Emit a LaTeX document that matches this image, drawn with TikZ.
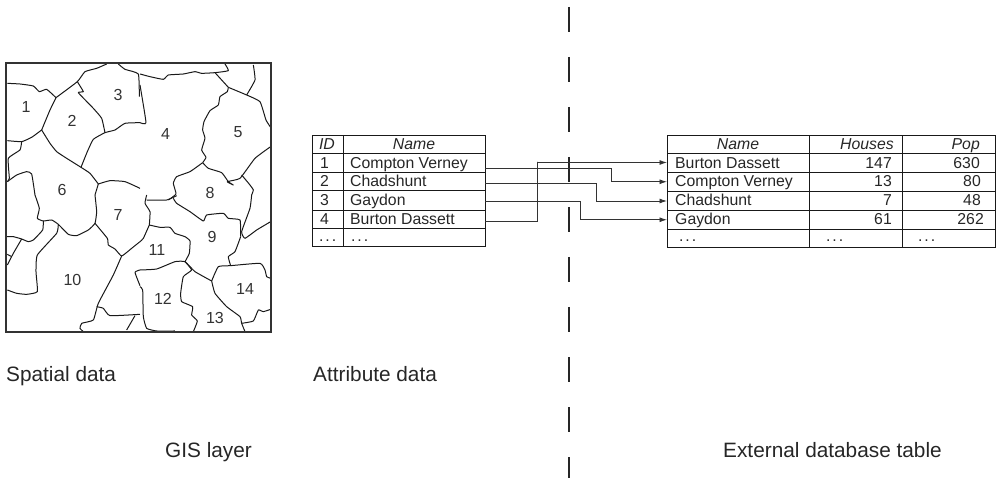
\documentclass[tikz,border=0pt]{standalone}
\usepackage{fontspec}
\setmainfont{Liberation Sans}
\usetikzlibrary{arrows.meta}
\tikzset{
  mapline/.style={draw=black!90,line width=1pt,line join=round},
  frameline/.style={draw=black!80,line width=1.6pt},
  rowbox/.style={draw=black!90,line width=.8pt,anchor=north west,inner sep=0pt,outer sep=0pt},
  cellrule/.style={draw=black!90,line width=.8pt},
  link/.style={draw=black!80,line width=.85pt,-{Latex[length=7.5pt,width=5pt]}},
  divider/.style={draw=black!85,line width=1.4pt,dash pattern=on 25pt off 25pt},
  num/.style={inner sep=0pt,font=\fontsize{16}{16}\selectfont,text=black!80},
  tl/.style={inner sep=0pt,anchor=base west,font=\fontsize{15.8}{16}\selectfont,text=black!85},
  tr/.style={inner sep=0pt,anchor=base east,font=\fontsize{15.8}{16}\selectfont,text=black!85},
  tc/.style={inner sep=0pt,anchor=base,font=\fontsize{15.8}{16}\selectfont\itshape,text=black!85},
  dots/.style={inner sep=0pt,anchor=base west,font=\fontsize{15.8}{16}\selectfont\addfontfeature{LetterSpace=12},text=black!85},
  captext/.style={inner sep=0pt,anchor=base west,font=\fontsize{20.8}{21}\selectfont,text=black!85}
}
\newcommand{\zn}[1]{\draw[mapline] plot[smooth,tension=.25] coordinates {#1};}
\begin{document}
\begin{tikzpicture}[x=1pt,y=-1pt]
\useasboundingbox (0,0) rectangle (996,478);
% map boundaries, traced per quadrant
\begin{scope}[shift={(0,50)},x=.3333pt,y=-.3333pt]
\zn{(22,100)(60,102)(100,108)(118,125)(140,118)(168,143)}
\zn{(168,143)(232,95)(255,65)(290,55)(320,42)}
\zn{(168,143)(150,180)(125,240)}
\zn{(125,240)(95,262)(65,275)(22,272)}
\zn{(65,275)(60,300)(25,325)(28,385)(22,395)}
\zn{(22,395)(50,375)(80,365)(95,372)(105,435)}
\zn{(125,240)(150,280)(170,305)(200,325)(243,352)(270,370)(295,402)}
\zn{(243,352)(262,305)(280,268)(315,248)(345,240)(375,220)(420,218)}
\zn{(232,95)(250,125)(235,128)(280,175)(305,205)(315,248)}
\zn{(355,42)(375,58)(415,72)(418,140)}
\zn{(295,402)(330,392)(375,395)(420,415)}
\zn{(295,402)(285,435)}
\end{scope}
\begin{scope}[shift={(140,50)},x=.3333pt,y=-.3333pt]
\zn{(0,72)(30,80)(70,88)(85,75)(130,72)(165,65)(185,70)(225,68)(265,62)(255,42)}
\zn{(225,68)(245,90)(265,112)}
\zn{(0,105)(18,218)(0,218)}
\zn{(265,112)(320,135)(360,155)(378,210)(392,232)}
\zn{(320,135)(345,90)(340,45)}
\zn{(265,112)(262,125)(240,140)(235,165)(210,182)(192,215)(188,240)(195,265)(185,300)(198,322)(188,338)}
\zn{(188,338)(205,355)(245,368)(265,395)(280,405)(262,395)(300,385)(345,325)(392,290)}
\zn{(188,338)(150,365)(110,380)(100,400)(108,432)(85,450)}
\zn{(305,375)(330,405)(340,420)(335,435)}
\end{scope}
\begin{scope}[shift={(0,195)},x=.3333pt,y=-.3333pt]
\zn{(105,0)(118,40)(112,70)(130,78)(155,75)(175,88)(205,118)(230,122)(265,105)(285,85)(290,50)(285,0)}
\zn{(130,78)(128,105)(100,135)(85,140)(65,132)(40,125)(20,125)}
\zn{(65,132)(40,175)(22,210)}
\zn{(22,178)(35,185)}
\zn{(175,88)(170,115)(112,180)(108,230)(112,290)(80,298)(50,295)(22,285)}
\zn{(285,85)(322,130)(325,150)(345,162)(365,183)(395,160)(420,140)}
\zn{(365,183)(340,240)(295,325)(280,375)(245,385)(240,400)(250,410)}
\zn{(290,335)(310,340)(330,362)(420,358)}
\zn{(405,362)(380,405)}
\end{scope}
\begin{scope}[shift={(140,195)},x=.3333pt,y=-.3333pt]
\zn{(20,0)(15,25)(30,50)(28,90)}
\zn{(20,15)(80,15)(110,2)}
\zn{(100,10)(110,25)(150,50)(190,78)(200,60)(250,55)(265,70)(300,75)(302,125)}
\zn{(335,0)(330,40)(305,110)(315,130)(350,105)(392,80)}
\zn{(302,125)(285,170)(265,185)(272,212)}
\zn{(28,90)(60,97)(90,97)(105,115)(135,125)(150,138)(148,175)(135,200)}
\zn{(0,225)(50,222)(105,200)(135,200)(165,230)(215,258)}
\zn{(135,200)(155,225)(130,245)(122,295)(125,320)(158,335)(155,360)(172,378)(160,410)}
\zn{(215,258)(235,215)(272,212)(360,205)(375,225)(380,245)(392,250)}
\zn{(215,258)(225,295)(260,335)(300,365)(305,385)(315,410)}
\zn{(305,385)(340,378)(355,345)(370,350)(392,343)}
\zn{(0,275)(8,285)(10,365)(20,400)(50,408)(105,408)}
\zn{(28,90)(10,130)(0,140)}
\zn{(0,225)(-15,232)(0,272)}
\end{scope}
\draw[frameline] (6,63) rectangle (271,332);
% map numbers
\node[num] (m1) at (26,107) {1};
\node[num] (m2) at (72,121) {2};
\node[num] (m3) at (118,95) {3};
\node[num] (m4) at (165.5,134) {4};
\node[num] (m5) at (238,132) {5};
\node[num] (m6) at (62,190) {6};
\node[num] (m7) at (118,215) {7};
\node[num] (m8) at (210,193) {8};
\node[num] (m9) at (212,237) {9};
\node[num] (m10) at (72.5,280) {10};
\node[num] (m11) at (157,250) {11};
\node[num] (m12) at (163,299) {12};
\node[num] (m13) at (215,318) {13};
\node[num] (m14) at (245,289) {14};
% attribute table rows
\node[rowbox,minimum width=172.7pt,minimum height=18.5pt] (a0) at (312.3,135) {};
\node[rowbox,minimum width=172.7pt,minimum height=19pt] (a1) at (312.3,153.5) {};
\node[rowbox,minimum width=172.7pt,minimum height=18pt] (a2) at (312.3,172.5) {};
\node[rowbox,minimum width=172.7pt,minimum height=19.5pt] (a3) at (312.3,190.5) {};
\node[rowbox,minimum width=172.7pt,minimum height=18pt] (a4) at (312.3,210) {};
\node[rowbox,minimum width=172.7pt,minimum height=18.7pt] (a5) at (312.3,228) {};
\draw[cellrule] (a0.north west -| 343,0) -- (a5.south west -| 343,0);
\node[tc] (h1) at (327,149.5) {ID};
\node[tc] (h2) at (414,149.5) {Name};
\node[tl] (i1) at (320,168.8) {1};
\node[tl] (i2) at (320,187) {2};
\node[tl] (i3) at (320,205.8) {3};
\node[tl] (i4) at (320,224.5) {4};
\node[dots] (i5) at (319,241.5) {...};
\node[tl] (n1) at (350,168.8) {Compton Verney};
\node[tl] (n2) at (350,187) {Chadshunt};
\node[tl] (n3) at (350,205.8) {Gaydon};
\node[tl] (n4) at (350,224.5) {Burton Dassett};
\node[dots] (n5) at (351,241.5) {...};
% external table rows
\node[rowbox,minimum width=328pt,minimum height=17.5pt] (b0) at (667,135.5) {};
\node[rowbox,minimum width=328pt,minimum height=19pt] (b1) at (667,153) {};
\node[rowbox,minimum width=328pt,minimum height=19.5pt] (b2) at (667,172) {};
\node[rowbox,minimum width=328pt,minimum height=19pt] (b3) at (667,191.5) {};
\node[rowbox,minimum width=328pt,minimum height=18.5pt] (b4) at (667,210.5) {};
\node[rowbox,minimum width=328pt,minimum height=18.5pt] (b5) at (667,229) {};
\draw[cellrule] (b0.north west -| 809,0) -- (b5.south west -| 809,0);
\draw[cellrule] (b0.north west -| 902,0) -- (b5.south west -| 902,0);
\node[tc] (k1) at (738,150) {Name};
\node[tc,anchor=base east] (k2) at (894,150) {Houses};
\node[tc,anchor=base east] (k3) at (980,150) {Pop};
\node[tl] (r1) at (675,169) {Burton Dassett};
\node[tl] (r2) at (675,187) {Compton Verney};
\node[tl] (r3) at (675,206) {Chadshunt};
\node[tl] (r4) at (675,224.5) {Gaydon};
\node[dots] (r5) at (679,241.5) {...};
\node[tr] (u1) at (892,169) {147};
\node[tr] (u2) at (892,187) {13};
\node[tr] (u3) at (892,206) {7};
\node[tr] (u4) at (892,224.5) {61};
\node[dots] (u5) at (826,241.5) {...};
\node[tr] (p1) at (980,169) {630};
\node[tr] (p2) at (981,187) {80};
\node[tr] (p3) at (981,206) {48};
\node[tr] (p4) at (984,224.5) {262};
\node[dots] (p5) at (918,241.5) {...};
% divider
\coordinate (d0) at (569,7);
\coordinate (d1) at (569,478);
\draw[divider] (d0) -- (d1);
% connectors
\coordinate (s1) at (485,168.3);
\coordinate (s2) at (485,183.3);
\coordinate (s3) at (485,201.7);
\coordinate (s4) at (485,221.3);
\draw[link] (s1) -| (611.7,182) |- (b2.west);
\draw[link] (s2) -| (596.7,201) |- (b3.west);
\draw[link] (s3) -| (580.3,220) |- (b4.west);
\draw[link] (s4) -| (537.7,162) |- (b1.west);
% captions
\node[captext] (c1) at (6,381) {Spatial data};
\node[captext] (c2) at (313,381) {Attribute data};
\node[captext] (c3) at (165,457) {GIS layer};
\node[captext] (c4) at (723,457) {External database table};
\end{tikzpicture}
\end{document}
